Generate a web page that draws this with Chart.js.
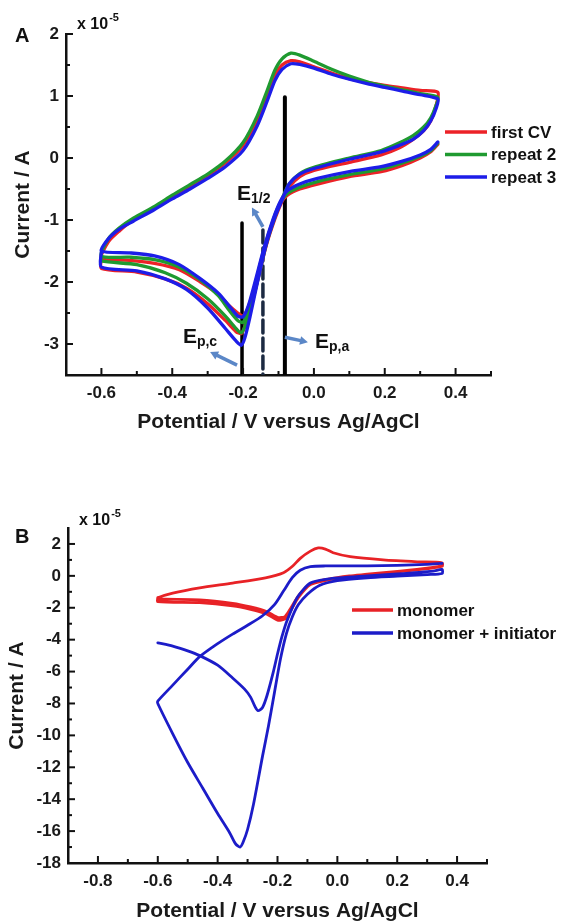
<!DOCTYPE html>
<html>
<head>
<meta charset="utf-8">
<script src="https://cdn.jsdelivr.net/npm/chart.js@4.4.0/dist/chart.umd.min.js"></script>
<style>
  body { margin: 0; background: #fff; }
  .panel { position: absolute; left: 0; width: 561px; }
  #panelA { top: 0; height: 450px; }
  #panelB { top: 450px; height: 474px; }
</style>
</head>
<body>
<div class="panel" id="panelA"><canvas id="chartA"></canvas></div>
<div class="panel" id="panelB"><canvas id="chartB"></canvas></div>
<script>
// ---- Panel A: repeated CVs (current in units of 1e-5 A) ----
const potentialA = [
  0.35, 0.33, 0.30, 0.25, 0.19, 0.10, 0.01, -0.04, -0.075, -0.095, -0.115, -0.14, -0.165, -0.185, -0.20, -0.215, -0.24, -0.27, -0.32, -0.38, -0.45, -0.52, -0.60,
  -0.58, -0.55, -0.51, -0.45, -0.40, -0.35, -0.30, -0.25, -0.20, -0.16, -0.13, -0.11, -0.09, -0.065, -0.04, 0.00, 0.05, 0.10, 0.15, 0.20, 0.25, 0.30, 0.35,
  0.345, 0.33, 0.31, 0.28, 0.24, 0.19, 0.10, 0.00, -0.04, -0.07, -0.09, -0.11, -0.135, -0.16, -0.18, -0.195, -0.205, -0.22, -0.25, -0.30, -0.36, -0.42, -0.50, -0.60, -0.60
];
const firstCV = [
  0.22, 0.10, 0.00, -0.12, -0.22, -0.30, -0.42, -0.50, -0.60, -0.74, -1.02, -1.47, -2.02, -2.40, -2.55, -2.50, -2.38, -2.20, -2.00, -1.80, -1.70, -1.65, -1.62,
  -1.35, -1.18, -1.00, -0.80, -0.62, -0.45, -0.28, -0.08, 0.20, 0.62, 1.05, 1.33, 1.50, 1.57, 1.55, 1.47, 1.37, 1.28, 1.22, 1.17, 1.13, 1.09, 1.06,
  0.85, 0.60, 0.44, 0.30, 0.16, 0.05, -0.07, -0.20, -0.30, -0.47, -0.70, -0.98, -1.42, -2.00, -2.45, -2.72, -2.83, -2.80, -2.62, -2.35, -2.10, -1.95, -1.84, -1.78, -1.62
];
const repeat2 = [
  0.24, 0.12, 0.03, -0.08, -0.18, -0.27, -0.38, -0.47, -0.57, -0.72, -1.00, -1.45, -2.02, -2.45, -2.65, -2.62, -2.45, -2.22, -1.97, -1.76, -1.64, -1.60, -1.58,
  -1.30, -1.13, -0.97, -0.78, -0.60, -0.43, -0.26, -0.05, 0.25, 0.68, 1.12, 1.42, 1.60, 1.69, 1.66, 1.56, 1.43, 1.32, 1.23, 1.16, 1.10, 1.04, 0.98,
  0.85, 0.65, 0.50, 0.36, 0.24, 0.12, 0.00, -0.15, -0.25, -0.42, -0.66, -0.95, -1.40, -2.00, -2.45, -2.72, -2.82, -2.75, -2.55, -2.27, -2.02, -1.85, -1.72, -1.66, -1.58
];
const repeat3 = [
  0.26, 0.14, 0.05, -0.05, -0.14, -0.22, -0.33, -0.42, -0.53, -0.70, -0.98, -1.43, -1.97, -2.38, -2.56, -2.55, -2.38, -2.18, -1.95, -1.72, -1.58, -1.53, -1.50,
  -1.30, -1.15, -1.02, -0.83, -0.66, -0.50, -0.33, -0.14, 0.12, 0.52, 0.95, 1.25, 1.43, 1.52, 1.51, 1.45, 1.35, 1.27, 1.20, 1.14, 1.08, 1.02, 0.95,
  0.80, 0.60, 0.44, 0.30, 0.20, 0.10, -0.02, -0.17, -0.26, -0.42, -0.68, -0.95, -1.40, -2.02, -2.55, -2.90, -3.02, -2.95, -2.75, -2.42, -2.12, -1.95, -1.82, -1.76, -1.50
];
// vertical markers: Ep,c, E1/2 (dashed), Ep,a
const markerPotential = [-0.203, -0.144, -0.082];
const markerTop = [-1.05, -1.16, 0.98];
const xTicksA = [-0.6, -0.4, -0.2, 0, 0.2, 0.4];
const yTicksA = [2, 1, 0, -1, -2, -3];

// ---- Panel B: monomer vs monomer + initiator ----
const potentialMono = [
  0.35, 0.30, 0.21, 0.10, 0.04, -0.03, -0.09, -0.13, -0.155, -0.175, -0.20, -0.235, -0.29, -0.35, -0.46, -0.60,
  -0.60, -0.55, -0.46, -0.35, -0.24, -0.18, -0.15, -0.124, -0.09, -0.064, -0.04, -0.014, 0.043, 0.153, 0.267, 0.35,
  0.35, 0.30, 0.21, 0.10, 0.04, -0.03, -0.09, -0.13, -0.155, -0.175, -0.20, -0.235, -0.29, -0.35, -0.46, -0.60, -0.60
];
const currentMono = [
  0.62, 0.48, 0.30, 0.10, 0.00, -0.20, -0.50, -1.25, -2.00, -2.55, -2.60, -2.25, -1.95, -1.72, -1.50, -1.45,
  -1.37, -1.08, -0.75, -0.45, -0.12, 0.20, 0.60, 1.10, 1.55, 1.75, 1.68, 1.45, 1.20, 1.00, 0.88, 0.82,
  0.60, 0.45, 0.26, 0.05, -0.05, -0.25, -0.55, -1.35, -2.15, -2.70, -2.78, -2.40, -2.10, -1.88, -1.68, -1.62, -1.37
];
const potentialInit = [
  -0.60, -0.55, -0.50, -0.46, -0.40, -0.35, -0.31, -0.29, -0.275, -0.265, -0.25, -0.235, -0.215, -0.20, -0.185, -0.168, -0.134, -0.09, -0.034, 0.10, 0.20, 0.32, 0.35,
  0.35, 0.30, 0.20, 0.10, 0.00, -0.06, -0.10, -0.13, -0.15, -0.17, -0.19, -0.21, -0.23, -0.25, -0.28, -0.30, -0.315, -0.325, -0.34, -0.36, -0.40, -0.45, -0.50, -0.55, -0.60,
  -0.60, -0.55, -0.50, -0.459, -0.40, -0.35, -0.30, -0.25, -0.21, -0.18, -0.15, -0.124, -0.09, -0.04, 0.10, 0.20, 0.30, 0.35
];
const currentInit = [
  -4.2, -4.4, -4.7, -5.0, -5.6, -6.4, -7.1, -7.6, -8.2, -8.45, -8.25, -7.5, -6.1, -4.9, -3.8, -2.8, -1.35, -0.45, -0.2, 0.0, 0.12, 0.3, 0.4,
  0.15, 0.08, -0.02, -0.12, -0.3, -0.6, -1.15, -1.8, -2.55, -3.6, -5.2, -7.3, -9.4, -11.3, -14.3, -15.9, -16.7, -17.0, -16.8, -16.1, -14.9, -13.3, -11.7, -9.9, -8.0,
  -7.85, -6.85, -5.85, -5.05, -4.25, -3.65, -3.1, -2.5, -1.8, -0.95, -0.1, 0.35, 0.58, 0.62, 0.62, 0.66, 0.72, 0.78
];
const xTicksB = [-0.8, -0.6, -0.4, -0.2, 0, 0.2, 0.4];
const yTicksB = [2, 0, -2, -4, -6, -8, -10, -12, -14, -16, -18];

const FONT = '"Liberation Sans", Arial, sans-serif';
Chart.defaults.font.family = FONT;
Chart.defaults.color = '#1a1a1a';

function toXY(xs, ys) {
  return xs.map((x, i) => ({ x: x, y: ys[i] }));
}

function curve(label, xs, ys, color, width, order) {
  return { label: label, data: toXY(xs, ys), borderColor: color, borderWidth: width,
    showLine: true, pointRadius: 0, tension: 0.25, order: order, inLegend: true };
}

// inward major + minor ticks
const innerTicks = {
  id: 'innerTicks',
  afterDraw(chart, args, o) {
    const { ctx, chartArea: a, scales } = chart;
    ctx.save();
    ctx.strokeStyle = '#111';
    ctx.lineWidth = 2;
    function mark(scale, values, len) {
      values.forEach(v => {
        const p = scale.getPixelForValue(v);
        ctx.beginPath();
        if (scale.isHorizontal()) { ctx.moveTo(p, a.bottom); ctx.lineTo(p, a.bottom - len); }
        else { ctx.moveTo(a.left, p); ctx.lineTo(a.left + len, p); }
        ctx.stroke();
      });
    }
    mark(scales.x, scales.x.ticks.map(t => t.value), 7);
    mark(scales.y, scales.y.ticks.map(t => t.value), 7);
    mark(scales.x, o.minorX, 4);
    mark(scales.y, o.minorY, 4);
    ctx.restore();
  }
};

// panel letter and the "x 10^-5" multiplier
const panelText = {
  id: 'panelText',
  afterDraw(chart, args, o) {
    const { ctx, chartArea: a } = chart;
    ctx.save();
    ctx.fillStyle = '#111';
    ctx.textBaseline = 'alphabetic';
    ctx.font = 'bold 20px ' + FONT;
    ctx.fillText(o.letter, 15, a.top + o.letterDy);
    ctx.font = 'bold 16px ' + FONT;
    ctx.fillText('x 10', a.left + 11, a.top + o.expDy);
    const w = ctx.measureText('x 10').width;
    ctx.font = 'bold 11px ' + FONT;
    ctx.fillText('-5', a.left + 12 + w, a.top + o.expDy - 8);
    ctx.restore();
  }
};

const cvLegend = {
  id: 'cvLegend',
  afterDraw(chart, args, o) {
    const ctx = chart.ctx;
    const items = chart.data.datasets.filter(d => d.inLegend);
    ctx.save();
    ctx.font = 'bold 17px ' + FONT;
    ctx.textBaseline = 'middle';
    ctx.fillStyle = '#111';
    items.forEach((d, i) => {
      const y = o.y + i * o.gap;
      ctx.strokeStyle = d.borderColor;
      ctx.lineWidth = 3.5;
      ctx.beginPath();
      ctx.moveTo(o.x, y);
      ctx.lineTo(o.x + o.len, y);
      ctx.stroke();
      ctx.fillText(d.label, o.x + o.len + 4, y + 1);
    });
    ctx.restore();
  }
};

// arrows and E labels, positioned in data coordinates
const annot = {
  id: 'annot',
  afterDatasetsDraw(chart, args, o) {
    if (!o.arrows) return;
    const { ctx, scales: { x, y } } = chart;
    ctx.save();
    ctx.strokeStyle = '#5b87c7';
    ctx.fillStyle = '#5b87c7';
    ctx.lineWidth = 3.5;
    o.arrows.forEach(ar => {
      const x1 = x.getPixelForValue(ar.from[0]), y1 = y.getPixelForValue(ar.from[1]);
      const x2 = x.getPixelForValue(ar.to[0]), y2 = y.getPixelForValue(ar.to[1]);
      const ang = Math.atan2(y2 - y1, x2 - x1);
      const hl = 9;
      ctx.beginPath();
      ctx.moveTo(x1, y1);
      ctx.lineTo(x2 - hl * 0.8 * Math.cos(ang), y2 - hl * 0.8 * Math.sin(ang));
      ctx.stroke();
      ctx.beginPath();
      ctx.moveTo(x2, y2);
      ctx.lineTo(x2 - hl * Math.cos(ang - 0.5), y2 - hl * Math.sin(ang - 0.5));
      ctx.lineTo(x2 - hl * Math.cos(ang + 0.5), y2 - hl * Math.sin(ang + 0.5));
      ctx.closePath();
      ctx.fill();
    });
    ctx.fillStyle = '#111';
    ctx.textBaseline = 'alphabetic';
    o.labels.forEach(lb => {
      const px = x.getPixelForValue(lb.at[0]), py = y.getPixelForValue(lb.at[1]);
      ctx.font = 'bold 21px ' + FONT;
      ctx.fillText('E', px, py);
      const w = ctx.measureText('E').width;
      ctx.font = 'bold 14px ' + FONT;
      ctx.fillText(lb.sub, px + w, py + 3);
    });
    ctx.restore();
  }
};

function xAxis(min, max, ticks, height) {
  return {
    type: 'linear', position: 'bottom', min: min, max: max,
    grid: { display: false, drawTicks: false },
    border: { color: '#111', width: 2.5 },
    ticks: { font: { size: 17, weight: 'bold' }, color: '#1a1a1a', padding: 8, maxRotation: 0, autoSkip: false,
      callback: v => Number(v).toFixed(1) },
    afterBuildTicks: s => { s.ticks = ticks.map(v => ({ value: v })); },
    afterFit: s => { s.height = height; },
    title: { display: true, text: 'Potential / V versus Ag/AgCl', color: '#1a1a1a',
      font: { size: 21, weight: 'bold' }, padding: { top: 0, bottom: 0 } }
  };
}

function yAxis(min, max, ticks, width, titlePad) {
  return {
    type: 'linear', position: 'left', min: min, max: max,
    grid: { display: false, drawTicks: false },
    border: { color: '#111', width: 2.5 },
    ticks: { font: { size: 17, weight: 'bold' }, color: '#1a1a1a', padding: 7, autoSkip: false,
      callback: v => String(v) },
    afterBuildTicks: s => { s.ticks = ticks.map(v => ({ value: v })); },
    afterFit: s => { s.width = width; },
    title: { display: true, text: 'Current / A', color: '#1a1a1a',
      font: { size: 21, weight: 'bold' }, padding: { top: titlePad, bottom: 0 } }
  };
}

function baseOptions(padding, scales, plugins) {
  return {
    responsive: true, maintainAspectRatio: false, animation: false,
    layout: { padding: padding },
    elements: { line: { borderCapStyle: 'round', borderJoinStyle: 'round' } },
    scales: scales,
    plugins: Object.assign({ legend: { display: false }, tooltip: { enabled: false } }, plugins)
  };
}

const markerSets = markerPotential.map((p, i) => ({
  label: 'marker', data: [{ x: p, y: markerTop[i] }, { x: p, y: -3.5 }],
  showLine: true, pointRadius: 0, borderColor: i === 1 ? '#1c2a42' : '#000',
  borderWidth: i === 2 ? 4 : 3.5, borderDash: i === 1 ? [13, 5] : [], order: 10
}));

new Chart(document.getElementById('chartA'), {
  type: 'scatter',
  data: {
    datasets: [
      curve('first CV', potentialA, firstCV, '#ec2227', 3.3, 3),
      curve('repeat 2', potentialA, repeat2, '#1f9a30', 3.3, 2),
      curve('repeat 3', potentialA, repeat3, '#1d1de8', 3.3, 1)
    ].concat(markerSets)
  },
  plugins: [innerTicks, panelText, cvLegend, annot],
  options: baseOptions({ top: 34, right: 70, bottom: 15, left: 0 }, {
    x: xAxis(-0.7, 0.5, xTicksA, 60),
    y: yAxis(-3.5, 2, yTicksA, 66, 11)
  }, {
    innerTicks: { minorX: [-0.5, -0.3, -0.1, 0.1, 0.3, 0.5], minorY: [1.5, 0.5, -0.5, -1.5, -2.5] },
    panelText: { letter: 'A', letterDy: 8, expDy: -5 },
    cvLegend: { x: 445, y: 132, len: 42, gap: 22.5 },
    annot: {
      arrows: [
        { from: [-0.144, -1.11], to: [-0.175, -0.8] },
        { from: [-0.217, -3.34], to: [-0.293, -3.13] },
        { from: [-0.082, -2.89], to: [-0.017, -2.97] }
      ],
      labels: [
        { sub: '1/2', at: [-0.217, -0.68] },
        { sub: 'p,c', at: [-0.37, -2.98] },
        { sub: 'p,a', at: [0.003, -3.065] }
      ]
    }
  })
});

new Chart(document.getElementById('chartB'), {
  type: 'scatter',
  data: {
    datasets: [
      curve('monomer', potentialMono, currentMono, '#e82226', 2.8, 2),
      curve('monomer + initiator', potentialInit, currentInit, '#1c1cc8', 2.8, 1)
    ]
  },
  plugins: [innerTicks, panelText, cvLegend, annot],
  options: baseOptions({ top: 78, right: 74, bottom: 0, left: 0 }, {
    x: xAxis(-0.9, 0.5, xTicksB, 61),
    y: yAxis(-18, 3, yTicksB, 68, 5)
  }, {
    innerTicks: { minorX: [-0.7, -0.5, -0.3, -0.1, 0.1, 0.3, 0.5], minorY: [1, -1, -3, -5, -7, -9, -11, -13, -15, -17] },
    panelText: { letter: 'B', letterDy: 15, expDy: -3 },
    cvLegend: { x: 352, y: 160, len: 41, gap: 23 },
    annot: {}
  })
});
</script>
</body>
</html>
